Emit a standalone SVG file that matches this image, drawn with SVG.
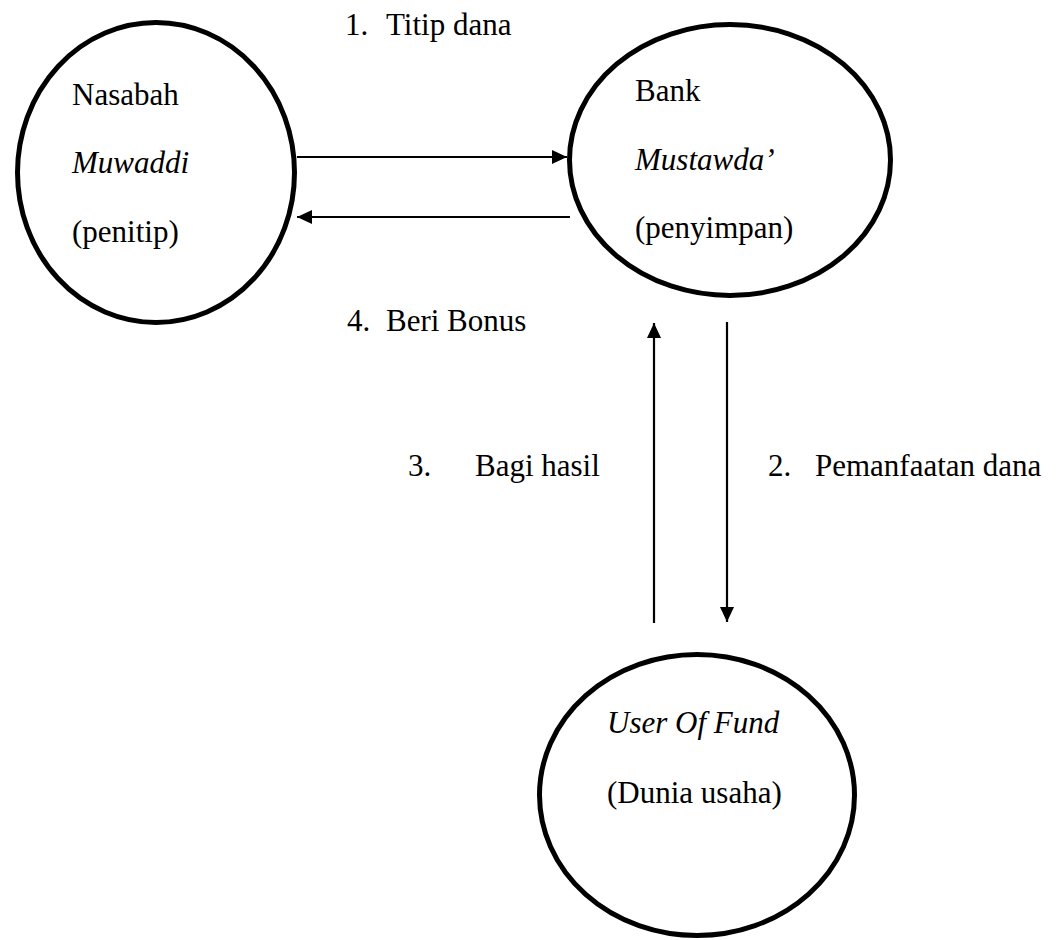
<svg xmlns="http://www.w3.org/2000/svg" width="1058" height="940" viewBox="0 0 1058 940">
<style>
.node{fill:#fff;stroke:#000;stroke-width:5}
.t{font-family:"Liberation Serif","Times New Roman",serif;font-size:31px;fill:#000}
.i{font-style:italic}
.c{stroke:#000;stroke-width:2.2;fill:none;marker-end:url(#ah)}
</style>
<defs>
<marker id="ah" markerUnits="userSpaceOnUse" markerWidth="16" markerHeight="14" refX="15" refY="7" orient="auto">
<path d="M0,0 L15,7 L0,14 Z" fill="#000"/>
</marker>
</defs>
<rect width="1058" height="940" fill="#fff"/>
<g id="nasabah">
<ellipse class="node" cx="156" cy="172.5" rx="138.5" ry="150"/>
<text class="t" x="72" y="105">Nasabah</text>
<text class="t i" x="72" y="173">Muwaddi</text>
<text class="t" x="72" y="242">(penitip)</text>
</g>
<g id="bank">
<ellipse class="node" cx="730" cy="160" rx="160.5" ry="135.5"/>
<text class="t" x="635" y="101">Bank</text>
<text class="t i" x="635" y="170">Mustawda’</text>
<text class="t" x="635" y="238">(penyimpan)</text>
</g>
<g id="user">
<ellipse class="node" cx="697" cy="795" rx="157.5" ry="140.5"/>
<text class="t i" x="607" y="733">User Of Fund</text>
<text class="t" x="607" y="803">(Dunia usaha)</text>
</g>
<g id="connectors">
<line class="c" x1="297" y1="157" x2="567" y2="157"/>
<line class="c" x1="570" y1="217" x2="297" y2="217"/>
<line class="c" x1="654" y1="623" x2="654" y2="323"/>
<line class="c" x1="727" y1="322" x2="727" y2="622"/>
</g>
<g id="labels">
<text class="t" x="345" y="35">1.</text><text class="t" x="386" y="35">Titip dana</text>
<text class="t" x="347" y="331">4.</text><text class="t" x="386" y="331">Beri Bonus</text>
<text class="t" x="408" y="476">3.</text><text class="t" x="475" y="476">Bagi hasil</text>
<text class="t" x="768" y="476">2.</text><text class="t" x="815" y="476">Pemanfaatan dana</text>
</g>
</svg>
